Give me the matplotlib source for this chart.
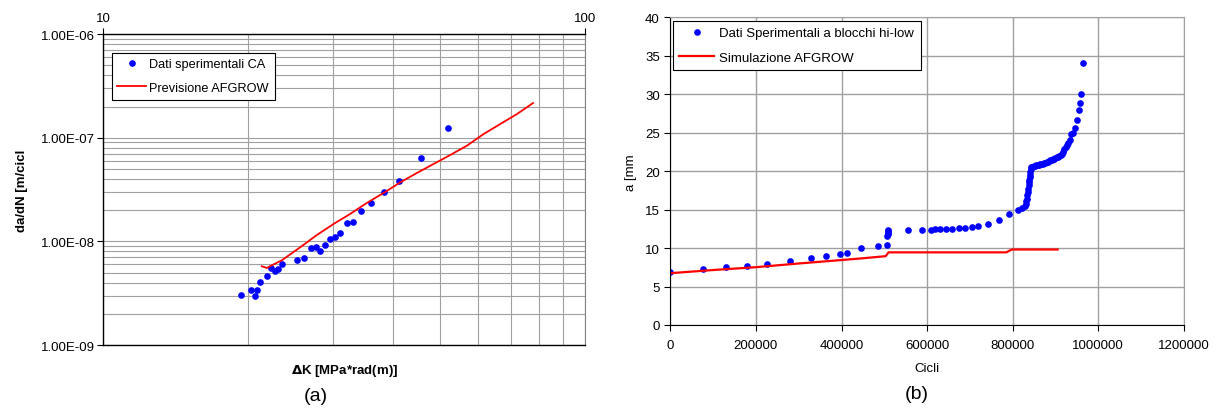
import matplotlib
matplotlib.use("Agg")
import matplotlib.pyplot as plt
import matplotlib.ticker as mticker
import numpy as np

plt.rcParams['font.family'] = ['Liberation Sans', 'DejaVu Sans']

# (a) da/dN vs Delta K
dk_exp = [19.3, 20.3, 20.7, 20.9, 21.2, 21.9, 22.3, 22.7, 23.0, 23.5, 25.2, 26.1, 27.0,
          27.7, 28.2, 28.9, 29.5, 30.3, 31.0, 32.0, 33.0, 34.3, 36.0, 38.2, 41.1, 45.7, 51.9]
dadn_exp = [3.04e-9, 3.4e-9, 3.0e-9, 3.4e-9, 4.03e-9, 4.68e-9, 5.5e-9, 5.19e-9, 5.4e-9,
            6.1e-9, 6.67e-9, 6.97e-9, 8.63e-9, 8.89e-9, 8.13e-9, 9.29e-9, 1.05e-8, 1.10e-8,
            1.20e-8, 1.50e-8, 1.54e-8, 1.95e-8, 2.33e-8, 3.02e-8, 3.86e-8, 6.37e-8, 1.23e-7]
dk_afg = [21.34, 21.86, 22.31, 23.48, 25.63, 27.76, 30.06, 32.54, 35.24, 38.16, 41.33,
          44.75, 48.45, 52.46, 56.83, 61.53, 66.63, 72.16, 77.9]
dadn_afg = [5.75e-9, 5.54e-9, 5.84e-9, 6.57e-9, 8.77e-9, 1.153e-8, 1.472e-8, 1.84e-8,
            2.35e-8, 2.93e-8, 3.71e-8, 4.57e-8, 5.58e-8, 6.81e-8, 8.38e-8, 1.086e-7,
            1.356e-7, 1.693e-7, 2.16e-7]
y_ticks_a = [1e-9, 1e-8, 1e-7, 1e-6]

# (b) crack length vs cycles
cyc_exp = [0, 77000, 129000, 178000, 227000, 279500, 329000, 364000, 395500, 413500,
           444600, 484300, 505300, 507000, 508000, 508500, 509000, 509500,
           554400, 587900, 608200, 619100, 629100, 643900, 658800, 673500, 688300,
           703900, 719500, 742500, 768000, 792000, 813000, 822000, 828500,
           830600, 831500, 832500, 833700, 834800, 836000, 837200, 838400, 839200,
           839900, 840700, 841500, 842300, 843000,
           846000, 849000, 852000, 855000, 858000, 861000, 864000, 867000, 870000,
           873000, 876000, 879000, 882000, 885000, 888000, 891000, 894000, 897000,
           900000, 903000, 906000, 909000, 912000, 915000, 918000, 921000, 924000,
           927000, 930000, 933000, 937000, 941500, 945000, 950000, 954000, 956500,
           959000, 963500]
a_exp = [6.87, 7.26, 7.52, 7.69, 7.91, 8.30, 8.73, 8.95, 9.21, 9.35,
         10.0, 10.26, 10.39, 11.55, 11.8, 12.0, 12.2, 12.4,
         12.39, 12.39, 12.39, 12.5, 12.5, 12.5, 12.5, 12.6, 12.68,
         12.81, 12.94, 13.2, 13.68, 14.48, 14.98, 15.22, 15.5,
         15.78, 16.1, 16.45, 16.86, 17.3, 17.73, 18.15, 18.6, 18.9,
         19.25, 19.55, 19.9, 20.25, 20.56,
         20.6, 20.65, 20.7, 20.75, 20.8, 20.85, 20.9, 20.95, 21.0,
         21.05, 21.1, 21.2, 21.25, 21.3, 21.4, 21.45, 21.55, 21.65,
         21.7, 21.8, 21.9, 22.0, 22.15, 22.3, 22.55, 22.85, 23.15,
         23.4, 23.7, 24.0, 24.8, 25.0, 25.6, 26.65, 27.95, 28.85,
         30.05, 34.1]
cyc_afg = [0, 100000, 200000, 300000, 400000, 450000, 503000, 510000, 785000, 798000, 905000]
a_afg = [6.74, 7.15, 7.52, 8.0, 8.45, 8.68, 8.95, 9.45, 9.45, 9.82, 9.82]

fig = plt.figure(figsize=(12.21, 4.10), dpi=100)

# ---- panel (a)
ax1 = fig.add_axes([0.0844, 0.156, 0.395, 0.7585])
ax1.set_xscale('log')
ax1.set_yscale('log')
ax1.set_xlim(10, 100)
ax1.set_ylim(1e-9, 1e-6)
ax1.grid(True, which='both', color='#a0a0a0', lw=0.8)
ax1.set_axisbelow(True)
ax1.plot(dk_exp, dadn_exp, 'o', color='#0000ff', ms=4.8, mec='none',
         label='Dati sperimentali CA')
ax1.plot(dk_afg, dadn_afg, '-', color='#ff0000', lw=1.3, label='Previsione AFGROW')
ax1.xaxis.tick_top()
ax1.xaxis.set_label_position('bottom')
ax1.xaxis.set_major_locator(mticker.FixedLocator([10, 100]))
ax1.xaxis.set_major_formatter(mticker.FixedFormatter(['10', '100']))
ax1.xaxis.set_minor_formatter(mticker.NullFormatter())
ax1.yaxis.set_major_locator(mticker.FixedLocator(y_ticks_a))
ax1.yaxis.set_major_formatter(mticker.FuncFormatter(lambda v, p: f"{v:.2E}"))
ax1.yaxis.set_minor_formatter(mticker.NullFormatter())
ax1.tick_params(which='minor', length=0)
ax1.tick_params(which='major', length=4, labelsize=9.5, width=0.8)
ax1.tick_params(axis='y', pad=1.5)
ax1.spines['right'].set_color('#808080')
for s in ['left', 'top', 'bottom']:
    ax1.spines[s].set_linewidth(1.0)
ax1.set_ylabel('da/dN [m/cicl', fontsize=9.5, fontweight='bold', labelpad=10)
ax1.set_xlabel(r'$\mathbf{\Delta}$K [MPa*rad(m)]', fontsize=9.5, fontweight='bold',
               labelpad=12)
fig.text(0.259, 0.032, '(a)', fontsize=14, ha='center', va='center')
leg1 = ax1.legend(loc='upper left', bbox_to_anchor=(0.018, 0.94), fontsize=9.2,
                  frameon=True, fancybox=False, framealpha=1, edgecolor='black',
                  handlelength=2.2, handletextpad=0.3, borderpad=0.45, labelspacing=0.9,
                  borderaxespad=0)
leg1.get_frame().set_linewidth(0.8)

# ---- panel (b)
ax2 = fig.add_axes([0.549, 0.2049, 0.4206, 0.750])
ax2.set_xlim(0, 1200000)
ax2.set_ylim(0, 40)
ax2.xaxis.set_major_locator(mticker.MultipleLocator(200000))
ax2.xaxis.set_major_formatter(mticker.FuncFormatter(lambda v, p: f"{v:.0f}"))
ax2.yaxis.set_major_locator(mticker.MultipleLocator(5))
ax2.grid(True, color='#a0a0a0', lw=1.0)
ax2.set_axisbelow(True)
ax2.plot(cyc_exp, a_exp, 'o', color='#0000ff', ms=4.8, mec='none',
         label='Dati Sperimentali a blocchi hi-low')
ax2.plot(cyc_afg, a_afg, '-', color='#ff0000', lw=1.6, label='Simulazione AFGROW')
ax2.tick_params(length=4, labelsize=9.5, width=0.8)
ax2.tick_params(axis='x', pad=6)
ax2.spines['right'].set_color('#a0a0a0')
ax2.spines['top'].set_color('#a0a0a0')
ax2.set_xlabel('Cicli', fontsize=9.5, labelpad=8)
ax2.set_ylabel('a [mm', fontsize=9.5, labelpad=6)
fig.text(0.751, 0.037, '(b)', fontsize=14, ha='center', va='center')
leg2 = ax2.legend(loc='upper left', bbox_to_anchor=(0.005, 0.99), fontsize=9.5,
                  frameon=True, fancybox=False, framealpha=1, edgecolor='black',
                  handlelength=2.6, handletextpad=0.4, borderpad=0.5, labelspacing=0.9,
                  borderaxespad=0)
leg2.get_frame().set_linewidth(0.8)

fig.savefig('out.png', dpi=100)
